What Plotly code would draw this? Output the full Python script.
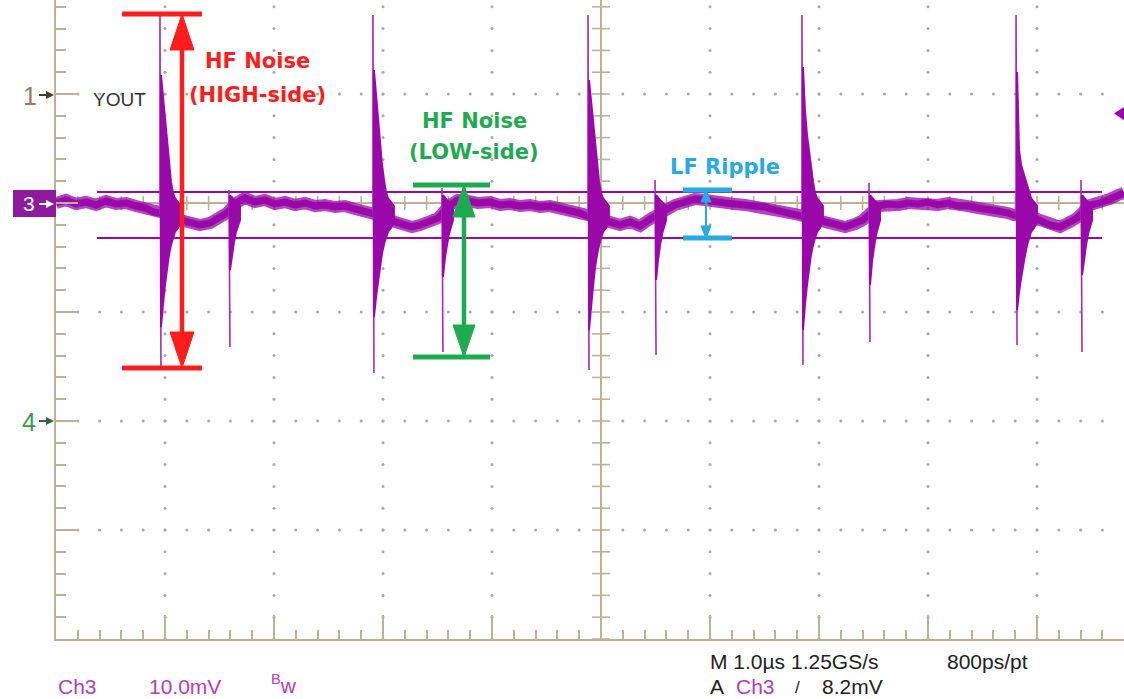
import plotly.graph_objects as go

# ---------------- data (time in µs, Ch3 voltage in mV, 10 mV/div, 1 µs/div) ----------------
base_t = [0, 0.092, 0.183, 0.275, 0.367, 0.459, 0.550, 0.642, 0.734, 0.826,
          0.899, 0.945, 1.064, 1.138, 1.229, 1.321, 1.413, 1.505, 1.569, 1.651,
          1.734, 1.826, 1.917, 2.009, 2.101, 2.193, 2.284, 2.376, 2.468, 2.560,
          2.651, 2.743, 2.835, 2.890, 3.028, 3.110, 3.202, 3.266, 3.339, 3.431,
          3.505, 3.615, 3.688, 3.780, 3.872, 3.982, 4.073, 4.165, 4.257, 4.349,
          4.440, 4.532, 4.624, 4.716, 4.807, 4.862, 4.991, 5.083, 5.174, 5.266,
          5.358, 5.450, 5.587, 5.679, 5.771, 5.862, 5.954, 6.046, 6.138, 6.229,
          6.321, 6.413, 6.505, 6.596, 6.688, 6.780, 6.826, 6.963, 7.055, 7.147,
          7.239, 7.330, 7.404, 7.541, 7.633, 7.725, 7.817, 7.908, 8.000, 8.092,
          8.183, 8.275, 8.367, 8.459, 8.550, 8.642, 8.734, 8.789, 8.936, 9.028,
          9.119, 9.211, 9.303, 9.367, 9.486, 9.578, 9.670, 9.743, 9.798]
base_mv = [0, 0.28, -0.09, 0.09, -0.18, 0.18, -0.09, 0, -0.28, -0.46,
           -0.83, -0.92, -1.10, -1.56, -1.74, -2.02, -1.83, -1.28, -0.92, 0,
           0.46, 0.09, 0.28, -0.09, 0.09, -0.18, 0, -0.28, -0.18, -0.37,
           -0.28, -0.55, -0.73, -0.92, -1.28, -1.74, -2.02, -2.20, -2.02, -1.74,
           -1.38, -0.18, 0.28, 0.18, 0, 0.09, -0.18, -0.09, -0.28, -0.18,
           -0.37, -0.28, -0.46, -0.73, -0.92, -1.19, -1.38, -1.74, -2.02, -1.74,
           -2.11, -1.47, -0.64, -0.18, 0.09, 0.37, 0.28, 0.09, 0, -0.09,
           -0.18, -0.28, -0.37, -0.64, -0.83, -1.01, -1.19, -1.47, -1.74, -1.93,
           -2.20, -1.93, -1.56, -0.28, -0.09, -0.18, 0, -0.09, 0.09, -0.18,
           0, -0.28, -0.28, -0.46, -0.55, -0.73, -0.92, -1.10, -1.19, -1.56,
           -2.02, -2.20, -1.74, -1.38, -0.18, 0, 0.37, 0.73, 0.92]

# HIGH-side switching edges: start time, baseline before, thin peak / trough
big_spike_t = [0.963, 2.917, 4.890, 6.853, 8.817]
big_base_mv = [-0.92, -0.92, -1.10, -1.19, -1.10]
big_peak_mv = [17.25, 17.25, 17.25, 17.25, 17.25]
big_trough_mv = [-15.05, -15.60, -15.32, -14.86, -13.03]
# dense ringing envelope after each HIGH-side edge
big_env_dt = [0, 0.018, 0.037, 0.055, 0.073, 0.092, 0.110, 0.128, 0.156, 0.183]
big_env1_hi = [11.74, 9.82, 7.52, 5.23, 3.39, 1.93, 0.92, 0.46, 0.09, -0.28]
big_env1_lo = [-11.38, -9.36, -7.52, -5.96, -4.77, -3.85, -3.21, -2.66, -2.29, -1.74]
big_env2_hi = [12.20, 10.09, 7.71, 5.41, 3.58, 2.11, 1.01, 0.46, 0.09, -0.28]
big_env2_lo = [-10.46, -8.72, -7.25, -5.78, -4.68, -3.76, -3.12, -2.66, -2.29, -1.74]
big_env3_hi = [11.28, 9.45, 7.16, 5.05, 3.39, 1.93, 0.92, 0.46, 0.09, -0.28]
big_env3_lo = [-11.65, -9.45, -7.61, -5.96, -4.77, -3.85, -3.21, -2.66, -2.29, -1.74]
big_env4_hi = [12.48, 8.53, 6.24, 4.68, 3.21, 1.93, 0.92, 0.46, 0.09, -0.28]
big_env4_lo = [-11.65, -9.36, -7.52, -5.96, -4.77, -3.85, -3.21, -2.66, -2.29, -1.74]
big_env5_hi = [12.02, 4.86, 3.49, 2.84, 2.29, 1.65, 0.92, 0.46, 0.09, -0.28]
big_env5_lo = [-9.82, -8.17, -6.88, -5.69, -4.77, -3.85, -3.21, -2.66, -2.29, -1.74]

# LOW-side switching edges
small_spike_t = [1.596, 3.550, 5.505, 7.468, 9.413]
small_base_mv = [-0.92, -1.38, -1.47, -1.56, -1.38]
small_peak_mv = [1.19, 1.38, 2.11, 1.83, 2.11]
small_trough_mv = [-13.21, -13.67, -13.94, -12.75, -13.67]
small_env_dt = [0, 0.018, 0.037, 0.055, 0.073, 0.092]
small_env_hi = [0.73, 0.46, 0.28, 0.09, -0.09, -0.28]
small_env1_lo = [-6.15, -4.77, -3.58, -2.66, -2.11, -1.56]
small_env2_lo = [-6.79, -5.05, -3.85, -2.84, -2.20, -1.56]
small_env3_lo = [-7.06, -5.23, -3.85, -2.84, -2.20, -1.56]
small_env4_lo = [-7.52, -5.41, -4.04, -2.94, -2.20, -1.56]
small_env5_lo = [-6.61, -5.05, -3.85, -2.84, -2.20, -1.56]

# horizontal cursors (mV) and their time extent (µs)
cursor_mv = [1.01, -3.21]
cursor_t = [0.376, 9.596]

# measurement markers: time of arrow, top level, bottom level, bar start, bar end
red_marker = [1.156, 17.34, -15.14, 0.606, 1.339]
green_marker = [3.743, 1.65, -14.13, 3.275, 3.982]
blue_marker = [5.963, 1.19, -3.21, 5.752, 6.202]

trigger_mv = 8.2

# ---------------- layout geometry ----------------
W, H = 1124, 699
L, R, T, B = 56, 0, 0, 60
PW, PH = W - L - R, H - T - B
DIV_PX = 109.0
T_DIV, V_DIV = 1.0, 10.0
x_range = [0, PW / DIV_PX * T_DIV]
y_range = [-4 * V_DIV, -4 * V_DIV + PH / DIV_PX * V_DIV]
us_px = T_DIV / DIV_PX
mv_px = V_DIV / DIV_PX

TAN = "#bdb394"
DOT = "#a9a9a9"
PURPLE = "#9a08aa"
RED = "#ff1c1c"
GREEN = "#1eab50"
BLUE = "#27a9e1"


def px_x(px):
    return (px - L) / PW


def px_y(py):
    return (H - B - py) / PH


fig = go.Figure()

# ---- graticule dots ----
dot_t, dot_v = [], []
for k in range(1, 10):
    if k == 5:
        continue
    for j in range(0, 41):
        v = -40 + 2 * j
        if v <= y_range[1]:
            dot_t.append(k * T_DIV)
            dot_v.append(v)
for gv in [-30, -20, -10, 10, 20, 30]:
    if gv < y_range[1]:
        for j in range(1, 50):
            t = 0.2 * j
            if t <= x_range[1]:
                dot_t.append(t)
                dot_v.append(gv)
fig.add_trace(go.Scatter(x=dot_t, y=dot_v, mode="markers",
                         marker=dict(size=3, color=DOT), hoverinfo="skip"))

# ---- centre cross with ticks ----
ct_t, ct_v = [5, 5, None, 0, x_range[1], None], [-40, y_range[1], None, 0, 0, None]
fig.add_trace(go.Scatter(x=ct_t, y=ct_v, mode="lines", line=dict(color=TAN, width=2),
                         hoverinfo="skip"))
tk_t, tk_v = [], []
for j in range(1, 50):
    t = 0.2 * j
    if t <= x_range[1]:
        tk_t += [t, t, None]
        tk_v += [-7 * mv_px, 7 * mv_px, None]
for j in range(0, 30):
    v = -40 + 2 * j
    if v <= y_range[1]:
        tk_t += [5 - 9 * us_px, 5 + 9 * us_px, None]
        tk_v += [v, v, None]
fig.add_trace(go.Scatter(x=tk_t, y=tk_v, mode="lines", line=dict(color=TAN, width=1.6),
                         hoverinfo="skip"))

# ---- cursors ----
for cv in cursor_mv:
    fig.add_trace(go.Scatter(x=cursor_t, y=[cv, cv], mode="lines",
                             line=dict(color=PURPLE, width=2), hoverinfo="skip"))

# ---- waveform baseline: soft noisy halo + dense core ----
fig.add_trace(go.Scatter(x=base_t, y=base_mv, mode="lines", opacity=0.75,
                         line=dict(color=PURPLE, width=12), hoverinfo="skip"))
fig.add_trace(go.Scatter(x=base_t, y=base_mv, mode="lines",
                         line=dict(color=PURPLE, width=7), hoverinfo="skip"))

# ---- thin extreme excursions of the transients ----
ex_t, ex_v = [], []
for t0, b, p, tr in zip(big_spike_t, big_base_mv, big_peak_mv, big_trough_mv):
    ex_t += [t0 - us_px, t0 - us_px, t0, None]
    ex_v += [b, p, tr, None]
for t0, b, p, tr in zip(small_spike_t, small_base_mv, small_peak_mv, small_trough_mv):
    ex_t += [t0 - us_px, t0 - us_px, t0, None]
    ex_v += [b, p, tr, None]
fig.add_trace(go.Scatter(x=ex_t, y=ex_v, mode="lines",
                         line=dict(color="#a62bb5", width=1.6), hoverinfo="skip"))

# ---- dense ringing envelopes (filled) ----
env_t, env_v = [], []
big_env = [(big_env1_hi, big_env1_lo), (big_env2_hi, big_env2_lo), (big_env3_hi, big_env3_lo),
           (big_env4_hi, big_env4_lo), (big_env5_hi, big_env5_lo)]
for t0, (hi, lo) in zip(big_spike_t, big_env):
    ts = [t0 + d for d in big_env_dt]
    env_t += ts + ts[::-1] + [ts[0], None]
    env_v += hi + lo[::-1] + [hi[0], None]
small_env = [small_env1_lo, small_env2_lo, small_env3_lo, small_env4_lo, small_env5_lo]
for t0, lo in zip(small_spike_t, small_env):
    ts = [t0 + d for d in small_env_dt]
    env_t += ts + ts[::-1] + [ts[0], None]
    env_v += small_env_hi + lo[::-1] + [small_env_hi[0], None]
fig.add_trace(go.Scatter(x=env_t, y=env_v, mode="lines", fill="toself", fillcolor=PURPLE,
                         line=dict(color=PURPLE, width=2), hoverinfo="skip"))


# ---- measurement arrows ----
def add_marker(m, color, lw, bw, head_w, head_h):
    t, hi, lo, b0, b1 = m
    fig.add_trace(go.Scatter(x=[b0, b1, None, b0, b1], y=[hi, hi, None, lo, lo], mode="lines",
                             line=dict(color=color, width=bw), hoverinfo="skip"))
    fig.add_trace(go.Scatter(x=[t, t], y=[hi - head_h * mv_px * 0.5, lo + head_h * mv_px * 0.5],
                             mode="lines", line=dict(color=color, width=lw), hoverinfo="skip"))
    hw = head_w / 2 * us_px
    hh = head_h * mv_px
    fig.add_trace(go.Scatter(x=[t, t - hw, t + hw, t], y=[hi, hi - hh, hi - hh, hi],
                             mode="lines", fill="toself", fillcolor=color,
                             line=dict(color=color, width=1), hoverinfo="skip"))
    fig.add_trace(go.Scatter(x=[t, t - hw, t + hw, t], y=[lo, lo + hh, lo + hh, lo],
                             mode="lines", fill="toself", fillcolor=color,
                             line=dict(color=color, width=1), hoverinfo="skip"))


add_marker(red_marker, RED, 4.5, 5, 24, 36)
add_marker(green_marker, GREEN, 4.5, 5, 22, 32)
add_marker(blue_marker, BLUE, 2, 5, 10, 12)

# ---- annotation texts ----
ann = []
bold = dict(family="DejaVu Sans", size=21)
ann.append(dict(x=1.853, y=13.0, xref="x", yref="y", text="<b>HF Noise</b>",
                font=dict(bold, color=RED), showarrow=False))
ann.append(dict(x=1.853, y=9.9, xref="x", yref="y", text="<b>(HIGH-side)</b>",
                font=dict(bold, color=RED), showarrow=False))
ann.append(dict(x=3.835, y=7.5, xref="x", yref="y", text="<b>HF Noise</b>",
                font=dict(bold, color=GREEN), showarrow=False))
ann.append(dict(x=3.835, y=4.65, xref="x", yref="y", text="<b>(LOW-side)</b>",
                font=dict(bold, color=GREEN), showarrow=False))
ann.append(dict(x=6.138, y=3.3, xref="x", yref="y", text="<b>LF Ripple</b>",
                font=dict(bold, color=BLUE), showarrow=False))
ann.append(dict(x=0.587, y=9.45, xref="x", yref="y", text="YOUT",
                font=dict(family="Liberation Sans", size=19, color="#333333"), showarrow=False))


def ptext(px, py, text, font, xanchor="center"):
    ann.append(dict(x=px_x(px), y=px_y(py), xref="paper", yref="paper", text=text,
                    xanchor=xanchor, yanchor="middle", font=font, showarrow=False))


# channel markers on the left
ptext(30, 96, "1", dict(family="Liberation Sans", size=25, color="#9c7a58"))
ptext(29, 422, "4", dict(family="Liberation Sans", size=25, color="#3c9a4a"))
ptext(29, 204, "3", dict(family="Liberation Sans", size=21, color="white"))

# status line texts
sfont = dict(family="Liberation Sans", size=21)
ptext(56, 686, "Ch3", dict(sfont, color="#b43cc0"), "left")
ptext(147, 686, "10.0mV", dict(sfont, color="#b43cc0"), "left")
ptext(269, 684, "<sup>B</sup>w", dict(sfont, color="#b43cc0"), "left")
ptext(708, 661, "M 1.0µs 1.25GS/s", dict(sfont, color="#222222"), "left")
ptext(945, 661, "800ps/pt", dict(sfont, color="#222222"), "left")
ptext(708, 686, "A", dict(sfont, color="#222222"), "left")
ptext(734, 686, "Ch3", dict(sfont, color="#b43cc0"), "left")
ptext(793, 687, "/", dict(family="Liberation Sans", size=17, color="#222222"), "left")
ptext(820, 686, f"{trigger_mv}mV", dict(sfont, color="#222222"), "left")


def arrow_shapes(py, color):
    return [
        dict(type="line", xref="paper", yref="paper", x0=px_x(39), x1=px_x(47),
             y0=px_y(py), y1=px_y(py), line=dict(color=color, width=2)),
        dict(type="path", xref="paper", yref="paper",
             path=f"M {px_x(54)},{px_y(py)} L {px_x(46)},{px_y(py - 4)} "
                  f"L {px_x(46)},{px_y(py + 4)} Z",
             fillcolor=color, line=dict(width=0)),
    ]


shapes = [
    # Ch3 ground marker box
    dict(type="rect", xref="paper", yref="paper", x0=px_x(13), x1=px_x(56),
         y0=px_y(217), y1=px_y(190), fillcolor="#8e1a9e", line=dict(width=0)),
    # trigger level marker on the right
    dict(type="path", xref="paper", yref="y",
         path=f"M {px_x(1114)},{trigger_mv} L {px_x(1126)},{trigger_mv + 8 * mv_px} "
              f"L {px_x(1126)},{trigger_mv - 8 * mv_px} Z",
         fillcolor=PURPLE, line=dict(width=0)),
]
shapes += arrow_shapes(95, "#4a3a2a")
shapes += arrow_shapes(421, "#2a6a3a")
shapes += arrow_shapes(204, "white")

fig.update_layout(
    width=W, height=H, autosize=False,
    margin=dict(l=L, r=R, t=T, b=B, pad=0),
    paper_bgcolor="white", plot_bgcolor="white",
    showlegend=False,
    annotations=ann, shapes=shapes,
    xaxis=dict(range=x_range, showgrid=False, zeroline=False, showline=True,
               linecolor=TAN, linewidth=2, ticks="inside", ticklen=24, tickwidth=1.6,
               tickcolor=TAN, tick0=0, dtick=T_DIV, showticklabels=False, fixedrange=True,
               minor=dict(ticks="inside", ticklen=9, tickwidth=1.6, tickcolor=TAN,
                          dtick=0.2 * T_DIV, showgrid=False)),
    yaxis=dict(range=y_range, showgrid=False, zeroline=False, showline=True,
               linecolor=TAN, linewidth=2, ticks="inside", ticklen=22, tickwidth=1.6,
               tickcolor=TAN, tick0=0, dtick=V_DIV, showticklabels=False, fixedrange=True,
               minor=dict(ticks="inside", ticklen=10, tickwidth=1.6, tickcolor=TAN,
                          dtick=0.2 * V_DIV, showgrid=False)),
)

fig.write_html("out.html", config={"displayModeBar": False},
               post_script="document.body.style.margin='0px';document.body.style.overflow='hidden';")
